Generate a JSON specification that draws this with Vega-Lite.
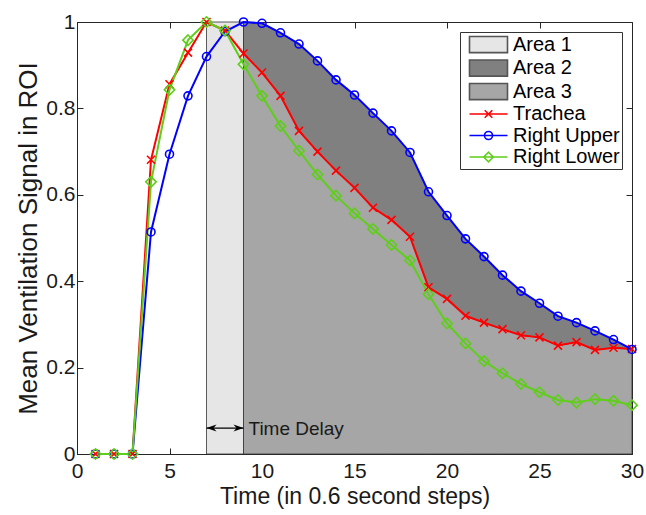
{
  "$schema": "https://vega.github.io/schema/vega-lite/v6.json",
  "width": 555,
  "height": 432,
  "autosize": "none",
  "padding": {"left": 77, "top": 22, "right": 14, "bottom": 61},
  "background": "white",
  "config": {
    "font": "Liberation Sans",
    "view": {"stroke": "#262626", "strokeWidth": 1},
    "axis": {
      "grid": false,
      "domainColor": "#262626",
      "tickColor": "#262626",
      "labelColor": "#1a1a1a",
      "titleColor": "#1a1a1a",
      "labelFont": "Liberation Sans",
      "titleFont": "Liberation Sans",
      "labelFontSize": 21,
      "titleFontSize": 23,
      "titleFontWeight": "normal",
      "tickSize": -6,
      "tickWidth": 1,
      "labelFlush": false,
      "labelOverlap": false
    },
    "axisLeft": {"labelPadding": 8, "titlePadding": 4, "titleFontSize": 26},
    "axisBottom": {"labelPadding": 12, "titlePadding": 4},
    "legend": {
      "title": null,
      "orient": "top-right",
      "offset": 10,
      "fillColor": "white",
      "strokeColor": "#333333",
      "padding": 2,
      "labelFont": "Liberation Sans",
      "labelFontSize": 20,
      "labelColor": "#000000",
      "symbolSize": 361,
      "symbolOffset": 16,
      "labelOffset": 14,
      "rowPadding": 0.5,
      "symbolOpacity": 1,
      "symbolStrokeWidth": 1.6
    }
  },
  "datasets": {
    "signal": [
      {"t": 1, "Trachea": 0, "Right Upper": 0, "Right Lower": 0},
      {"t": 2, "Trachea": 0, "Right Upper": 0, "Right Lower": 0},
      {"t": 3, "Trachea": 0, "Right Upper": 0, "Right Lower": 0},
      {"t": 4, "Trachea": 0.681, "Right Upper": 0.514, "Right Lower": 0.63},
      {"t": 5, "Trachea": 0.856, "Right Upper": 0.694, "Right Lower": 0.843},
      {"t": 6, "Trachea": 0.929, "Right Upper": 0.829, "Right Lower": 0.958},
      {"t": 7, "Trachea": 1.0, "Right Upper": 0.92, "Right Lower": 1.0},
      {"t": 8, "Trachea": 0.98, "Right Upper": 0.978, "Right Lower": 0.98},
      {"t": 9, "Trachea": 0.927, "Right Upper": 1.0, "Right Lower": 0.902},
      {"t": 10, "Trachea": 0.883, "Right Upper": 0.997, "Right Lower": 0.829},
      {"t": 11, "Trachea": 0.829, "Right Upper": 0.975, "Right Lower": 0.759},
      {"t": 12, "Trachea": 0.748, "Right Upper": 0.949, "Right Lower": 0.702},
      {"t": 13, "Trachea": 0.7, "Right Upper": 0.91, "Right Lower": 0.647},
      {"t": 14, "Trachea": 0.656, "Right Upper": 0.866, "Right Lower": 0.598},
      {"t": 15, "Trachea": 0.616, "Right Upper": 0.831, "Right Lower": 0.557},
      {"t": 16, "Trachea": 0.57, "Right Upper": 0.789, "Right Lower": 0.521},
      {"t": 17, "Trachea": 0.542, "Right Upper": 0.748, "Right Lower": 0.484},
      {"t": 18, "Trachea": 0.503, "Right Upper": 0.698, "Right Lower": 0.448},
      {"t": 19, "Trachea": 0.386, "Right Upper": 0.607, "Right Lower": 0.37},
      {"t": 20, "Trachea": 0.359, "Right Upper": 0.552, "Right Lower": 0.302},
      {"t": 21, "Trachea": 0.32, "Right Upper": 0.498, "Right Lower": 0.256},
      {"t": 22, "Trachea": 0.304, "Right Upper": 0.457, "Right Lower": 0.215},
      {"t": 23, "Trachea": 0.289, "Right Upper": 0.414, "Right Lower": 0.187},
      {"t": 24, "Trachea": 0.275, "Right Upper": 0.377, "Right Lower": 0.162},
      {"t": 25, "Trachea": 0.27, "Right Upper": 0.349, "Right Lower": 0.143},
      {"t": 26, "Trachea": 0.251, "Right Upper": 0.319, "Right Lower": 0.125},
      {"t": 27, "Trachea": 0.259, "Right Upper": 0.304, "Right Lower": 0.119},
      {"t": 28, "Trachea": 0.241, "Right Upper": 0.285, "Right Lower": 0.127},
      {"t": 29, "Trachea": 0.246, "Right Upper": 0.265, "Right Lower": 0.123},
      {"t": 30, "Trachea": 0.243, "Right Upper": 0.242, "Right Lower": 0.113}
    ],
    "area1": [{"x1": 7, "x2": 9, "y1": 0, "y2": 1, "series": "Area 1"}],
    "note": [{"x1": 7, "x2": 9, "y": 0.06, "label": "Time Delay"}]
  },
  "layer": [
    {
      "resolve": {"scale": {"fill": "independent", "stroke": "independent", "shape": "independent"}},
      "layer": [
        {
          "data": {"name": "area1"},
          "mark": {"type": "rect", "stroke": "#333333", "strokeWidth": 0.8, "opacity": 1},
          "encoding": {
            "x": {"field": "x1", "type": "quantitative", "scale": {"domain": [0, 30], "nice": false, "zero": false}, "title": "Time (in 0.6 second steps)", "axis": {"values": [0, 5, 10, 15, 20, 25, 30], "format": "~g"}},
            "x2": {"field": "x2"},
            "y": {"field": "y1", "type": "quantitative", "scale": {"domain": [0, 1], "nice": false, "zero": false}, "title": "Mean Ventilation Signal in ROI", "axis": {"values": [0, 0.2, 0.4, 0.6, 0.8, 1], "format": "~g"}},
            "y2": {"field": "y2"},
            "fill": {"field": "series", "type": "nominal", "scale": {"domain": ["Area 1"], "range": ["#e6e6e6"]}, "legend": null}
          }
        },
        {
          "data": {"name": "signal"},
          "transform": [{"filter": "datum.t >= 9"}],
          "mark": {"type": "area", "stroke": "#333333", "strokeWidth": 0.8, "opacity": 1, "fill": "#a6a6a6"},
          "encoding": {
            "x": {"field": "t", "type": "quantitative", "title": "Time (in 0.6 second steps)"},
            "y": {"field": "Trachea", "type": "quantitative", "title": "Mean Ventilation Signal in ROI"},
            "y2": {"datum": 0}
          }
        },
        {
          "data": {"name": "signal"},
          "transform": [{"filter": "datum.t >= 9"}],
          "mark": {"type": "area", "stroke": "#333333", "strokeWidth": 0.8, "opacity": 1, "fill": "#808080"},
          "encoding": {
            "x": {"field": "t", "type": "quantitative", "title": "Time (in 0.6 second steps)"},
            "y": {"field": "Right Upper", "type": "quantitative", "title": "Mean Ventilation Signal in ROI"},
            "y2": {"field": "Trachea"}
          }
        },
        {
          "data": {"name": "signal"},
          "transform": [{"fold": ["Trachea", "Right Upper", "Right Lower"], "as": ["series", "value"]}],
          "mark": {"type": "line", "strokeWidth": 2},
          "encoding": {
            "x": {"field": "t", "type": "quantitative", "title": "Time (in 0.6 second steps)"},
            "y": {"field": "value", "type": "quantitative", "title": "Mean Ventilation Signal in ROI"},
            "stroke": {"field": "series", "type": "nominal", "scale": {"domain": ["Trachea", "Right Upper", "Right Lower"], "range": ["#ff0000", "#0000ff", "#5fce1a"]}, "legend": null}
          }
        },
        {
          "data": {"name": "signal"},
          "transform": [{"fold": ["Trachea", "Right Upper", "Right Lower"], "as": ["series", "value"]}],
          "mark": {"type": "point", "filled": false, "strokeWidth": 1.6, "size": 64, "opacity": 1},
          "encoding": {
            "x": {"field": "t", "type": "quantitative", "title": "Time (in 0.6 second steps)"},
            "y": {"field": "value", "type": "quantitative", "title": "Mean Ventilation Signal in ROI"},
            "stroke": {"field": "series", "type": "nominal", "scale": {"domain": ["Trachea", "Right Upper", "Right Lower"], "range": ["#ff0000", "#0000ff", "#5fce1a"]}, "legend": null},
            "shape": {"field": "series", "type": "nominal", "scale": {"domain": ["Trachea", "Right Upper", "Right Lower"], "range": ["M-1,-1L1,1M-1,1L1,-1", "circle", "M0,-1.3L1.3,0L0,1.3L-1.3,0Z"]}, "legend": null}
          }
        },
        {
          "data": {"name": "signal"},
          "transform": [{"fold": ["Trachea", "Right Upper", "Right Lower"], "as": ["series", "value"]}],
          "mark": {"type": "point", "filled": true, "opacity": 0, "size": 361},
          "encoding": {
            "x": {"field": "t", "type": "quantitative", "title": "Time (in 0.6 second steps)"},
            "y": {"field": "value", "type": "quantitative", "title": "Mean Ventilation Signal in ROI"},
            "fill": {"field": "series", "type": "nominal",
              "scale": {"domain": ["Area 1", "Area 2", "Area 3", "Trachea", "Right Upper", "Right Lower"], "range": ["#e6e6e6", "#808080", "#a6a6a6", "transparent", "transparent", "transparent"]},
              "legend": {"title": null}},
            "stroke": {"field": "series", "type": "nominal",
              "scale": {"domain": ["Area 1", "Area 2", "Area 3", "Trachea", "Right Upper", "Right Lower"], "range": ["#555555", "#555555", "#555555", "#ff0000", "#0000ff", "#5fce1a"]},
              "legend": {"title": null}},
            "shape": {"field": "series", "type": "nominal",
              "scale": {"domain": ["Area 1", "Area 2", "Area 3", "Trachea", "Right Upper", "Right Lower"], "range": ["M-2,-0.85H2V0.85H-2Z", "M-2,-0.85H2V0.85H-2Z", "M-2,-0.85H2V0.85H-2Z", "M-2,0H2M-0.4,-0.4L0.4,0.4M-0.4,0.4L0.4,-0.4", "M-2,0H2M-0.42,0A0.42,0.42 0 1,1 0.42,0A0.42,0.42 0 1,1 -0.42,0", "M-2,0H2M0,-0.5L0.5,0L0,0.5L-0.5,0Z"]},
              "legend": {"title": null}}
          }
        }
      ]
    },
    {
      "data": {"name": "note"},
      "layer": [
        {
          "mark": {"type": "rule", "color": "black", "strokeWidth": 1.3},
          "encoding": {
            "x": {"field": "x1", "type": "quantitative", "scale": {"domain": [0, 30], "nice": false, "zero": false}, "axis": {"orient": "top", "labels": false, "domain": false, "title": null, "values": [0, 5, 10, 15, 20, 25, 30]}},
            "x2": {"field": "x2"},
            "y": {"field": "y", "type": "quantitative", "scale": {"domain": [0, 1], "nice": false, "zero": false}, "axis": {"orient": "right", "labels": false, "domain": false, "title": null, "values": [0, 0.2, 0.4, 0.6, 0.8, 1]}}
          }
        },
        {
          "mark": {"type": "point", "shape": "M0,0L2,-0.7L1.4,0L2,0.7Z", "filled": true, "color": "black", "size": 100, "opacity": 1},
          "encoding": {
            "x": {"field": "x1", "type": "quantitative"},
            "y": {"field": "y", "type": "quantitative"}
          }
        },
        {
          "mark": {"type": "point", "shape": "M0,0L-2,-0.7L-1.4,0L-2,0.7Z", "filled": true, "color": "black", "size": 100, "opacity": 1},
          "encoding": {
            "x": {"field": "x2", "type": "quantitative"},
            "y": {"field": "y", "type": "quantitative"}
          }
        },
        {
          "mark": {"type": "text", "align": "left", "baseline": "middle", "dx": 5, "dy": 1, "fontSize": 19, "font": "Liberation Sans", "color": "#1a1a1a"},
          "encoding": {
            "x": {"field": "x2", "type": "quantitative"},
            "y": {"field": "y", "type": "quantitative"},
            "text": {"field": "label"}
          }
        }
      ]
    }
  ],
  "resolve": {"axis": {"x": "independent", "y": "independent"}}
}
